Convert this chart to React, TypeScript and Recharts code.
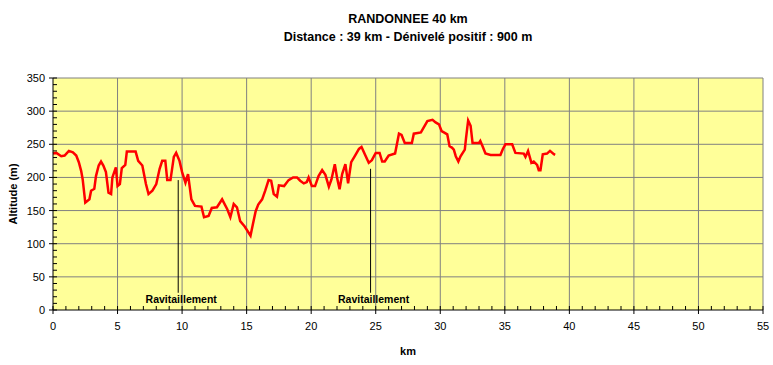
import { LineChart, Line, XAxis, YAxis, CartesianGrid, ReferenceLine } from "recharts";

// distance (km) and altitude (m)
const distanceKm = [
  0, 0.26, 0.64, 0.9, 1.23, 1.54, 1.8, 2.0, 2.18, 2.3, 2.5, 2.82, 2.95, 3.2, 3.33, 3.54, 3.72, 3.9,
  4.1, 4.3, 4.5, 4.6, 4.87, 5.0, 5.18, 5.33, 5.6, 5.72, 6.4, 6.6, 6.92, 7.2, 7.4, 7.7, 8.0, 8.26,
  8.46, 8.7, 8.85, 9.1, 9.36, 9.54, 9.8, 10.0, 10.26, 10.46, 10.72, 11.0, 11.5, 11.7, 12.05, 12.3,
  12.7, 13.1, 13.5, 13.74, 14.0, 14.25, 14.5, 14.85, 15.3, 15.5, 15.7, 15.9, 16.2, 16.44, 16.7,
  16.9, 17.1, 17.35, 17.5, 17.9, 18.25, 18.6, 18.9, 19.15, 19.43, 19.66, 19.8, 20.05, 20.3, 20.57,
  20.85, 21.1, 21.37, 21.57, 21.83, 22.0, 22.2, 22.4, 22.65, 22.86, 23.1, 23.4, 23.7, 23.9, 24.2,
  24.46, 24.7, 25.0, 25.3, 25.5, 25.7, 26.0, 26.5, 26.8, 27.0, 27.25, 27.8, 27.95, 28.5, 29.0,
  29.4, 29.64, 29.9, 30.1, 30.28, 30.54, 30.72, 30.9, 31.05, 31.2, 31.4, 31.57, 31.9, 32.0, 32.16,
  32.35, 32.5, 33.0, 33.1, 33.3, 33.5, 33.9, 34.66, 34.85, 35.05, 35.57, 35.82, 36.47, 36.6, 36.8,
  37.06, 37.24, 37.5, 37.63, 37.76, 37.94, 38.27, 38.5, 38.8, 38.9,
];
const altitudeM = [
  236, 237, 232, 233, 240, 238, 233, 223, 210, 197, 162, 167, 180, 183, 202, 218, 224, 218,
  208, 177, 175, 200, 215, 187, 190, 214, 219, 239, 239, 225, 218, 190, 175, 180, 190, 213,
  225, 225, 196, 196, 231, 237, 225, 208, 192, 205, 167, 157, 156, 140, 142, 154,
  155, 167, 152, 140, 160, 155, 134, 126, 112, 131, 149, 159, 167, 180, 196,
  195, 175, 171, 188, 187, 196, 200, 200, 195, 191, 193, 200, 187, 187, 202,
  211, 204, 186, 197, 220, 200, 182, 205, 220, 191, 223, 233, 243, 246, 233,
  222, 226, 237, 237, 224, 224, 233, 236, 266, 264, 252, 252, 266, 268, 285,
  287, 283, 280, 270, 268, 265, 247, 245, 242, 232, 224, 232, 242, 260, 286,
  278, 252, 252, 255, 246, 236, 234, 234, 243, 250, 250, 237, 236, 231, 240,
  222, 224, 219, 211, 211, 235, 236, 240, 235, 234,
];

const kmTicks = [0, 5, 10, 15, 20, 25, 30, 35, 40, 45, 50, 55];
const altTicks = [0, 50, 100, 150, 200, 250, 300, 350];
const kmMinor = Array.from({ length: 56 }, (_, i) => i);
const altMinor = Array.from({ length: 36 }, (_, i) => i * 10);

// ravitaillement points: km, top and bottom of the marker line
const stops = [
  { km: 9.7, top: 196, bottom: 26 },
  { km: 24.6, top: 213, bottom: 26 },
];

const data = distanceKm.map((km, i) => ({ km, alt: altitudeM[i] }));

const font = "'Liberation Sans', Arial, sans-serif";

function KmTick({ x, y, payload }: any) {
  const major = payload.value % 5 === 0;
  return (
    <g>
      <line x1={x} x2={x} y1={y - 4} y2={major ? y + 4 : y} stroke="#000" />
      {major && (
        <text x={x} y={y + 20} textAnchor="middle" fontSize={11} fontFamily={font} fill="#000">
          {payload.value}
        </text>
      )}
    </g>
  );
}

function AltTick({ x, y, payload }: any) {
  const major = payload.value % 50 === 0;
  return (
    <g>
      <line x1={major ? x - 4 : x} x2={x + 4} y1={y} y2={y} stroke="#000" />
      {major && (
        <text x={x - 8} y={y + 4} textAnchor="end" fontSize={11} fontFamily={font} fill="#000">
          {payload.value}
        </text>
      )}
    </g>
  );
}

export default function App() {
  return (
    <div style={{ position: "relative", width: 773, height: 365, fontFamily: font, background: "#fff" }}>
      <style>{`body{margin:0}`}</style>
      <div style={{ position: "absolute", left: 53, width: 710, top: 10, textAlign: "center", fontSize: 12.5, fontWeight: "bold", lineHeight: "18px" }}>
        RANDONNEE 40 km
        <br />
        Distance : 39 km - Dénivelé positif : 900 m
      </div>
      <LineChart width={773} height={365} data={data} margin={{ top: 78, right: 10, left: 0, bottom: 0 }}>
        <CartesianGrid fill="#FFFF99" horizontal={false} vertical={false} />
        {kmTicks.slice(1).map((v) => (
          <ReferenceLine key={"gx" + v} x={v} stroke="#808080" />
        ))}
        {altTicks.slice(1).map((v) => (
          <ReferenceLine key={"gy" + v} y={v} stroke="#808080" />
        ))}
        <XAxis
          dataKey="km"
          type="number"
          domain={[0, 55]}
          ticks={kmMinor}
          interval={0}
          height={55}
          tickLine={false}
          tickSize={0}
          tickMargin={0}
          tick={<KmTick />}
          stroke="#000"
          label={{ value: "km", position: "insideBottom", offset: 10, fontSize: 11, fontWeight: "bold", fill: "#000", fontFamily: font }}
        />
        <YAxis
          type="number"
          domain={[0, 350]}
          ticks={altMinor}
          interval={0}
          width={53}
          tickLine={false}
          tickSize={0}
          tickMargin={0}
          tick={<AltTick />}
          stroke="#000"
          label={{ value: "Altitude (m)", angle: -90, position: "insideLeft", offset: 13, style: { textAnchor: "middle" }, fontSize: 11, fontWeight: "bold", fill: "#000", fontFamily: font }}
        />
        {stops.map((s) => (
          <ReferenceLine
            key={"r" + s.km}
            segment={[{ x: s.km, y: s.top }, { x: s.km, y: s.bottom }]}
            stroke="#000"
            label={{ value: "Ravitaillement", position: "bottom", offset: 3, dx: 3, fontSize: 10.5, fontWeight: "bold", fill: "#000", fontFamily: font }}
          />
        ))}
        <Line dataKey="alt" type="linear" stroke="#FF0000" strokeWidth={2.5} dot={false} isAnimationActive={false} />
      </LineChart>
    </div>
  );
}
